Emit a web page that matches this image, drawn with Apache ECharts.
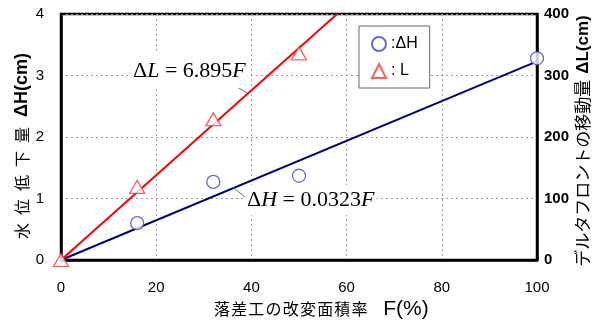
<!DOCTYPE html>
<html>
<head>
<meta charset="utf-8">
<script src="https://cdn.jsdelivr.net/npm/echarts@6/dist/echarts.min.js"></script>
<style>html,body{margin:0;padding:0;background:#fff;}#c{width:601px;height:320px;}</style>
</head>
<body>
<div id="c"></div>
<script>
// ---- data ----
const xTicks = [0, 20, 40, 60, 80, 100];
const dHx = [16, 32, 50, 100];
const dHy = [0.60, 1.27, 1.37, 3.28];
const dLx = [0, 16, 32, 50];
const dLy = [0, 119, 229, 336];
const slopeH = 0.0323;   // ΔH = 0.0323F
const slopeL = 6.895;    // ΔL = 6.895F
const leftMax = 4, rightMax = 400, xMax = 100;

const hPoints = dHx.map((x, i) => [x, dHy[i]]);
const lPoints = dLx.map((x, i) => [x, dLy[i]]);
const hFit = [[0, 0], [xMax, slopeH * xMax]];
const lEnd = Math.min(xMax, rightMax / slopeL);
const lFit = [[0, 0], [lEnd, slopeL * lEnd]];

const chart = echarts.init(document.getElementById('c'), null, {renderer: 'canvas'});
const grid = {left: 61, right: 64, top: 14, bottom: 60};
const dotted = {show: true, lineStyle: {color: '#a0a0a0', type: [2, 3], width: 1}};

const leftCJK = '水位低下量';
const rightCJK = 'デルタフロントの移動量';
const xCJK = '落差工の改変面積率';

chart.setOption({
  animation: false,
  grid: Object.assign({show: true, borderColor: '#000', borderWidth: 2.5, backgroundColor: 'transparent'}, grid),
  legend: {
    orient: 'vertical', left: 359, top: 26,
    padding: [10, 12, 9, 12], itemGap: 11, itemWidth: 14, itemHeight: 14, itemTextGap: 4,
    borderColor: '#666', borderWidth: 1, backgroundColor: '#fff',
    textStyle: {fontFamily: 'Liberation Sans', fontSize: 16, color: '#000'},
    data: [':ΔH', ': L']
  },
  xAxis: {
    type: 'value', min: 0, max: xMax, interval: 20,
    axisLine: {show: true, lineStyle: {color: '#000', width: 2.5}},
    axisTick: {show: false},
    axisLabel: {margin: 20, fontFamily: 'Liberation Sans', fontSize: 15, color: '#000'},
    splitLine: dotted
  },
  yAxis: [{
    type: 'value', min: 0, max: leftMax, interval: 1, position: 'left',
    axisLine: {show: true, lineStyle: {color: '#000', width: 2.5}},
    axisTick: {show: false},
    axisLabel: {margin: 17, fontFamily: 'Liberation Sans', fontSize: 15, color: '#000'},
    splitLine: dotted
  }, {
    type: 'value', min: 0, max: rightMax, interval: 100, position: 'right',
    axisLine: {show: true, lineStyle: {color: '#000', width: 2.5}},
    axisTick: {show: false},
    axisLabel: {margin: 7, fontFamily: 'Liberation Sans', fontSize: 15, fontWeight: 'bold', color: '#000'},
    splitLine: {show: false}
  }],
  series: [{
    type: 'line', data: hFit, yAxisIndex: 0, symbol: 'none', silent: true,
    lineStyle: {color: '#000080', width: 2}, z: 2
  }, {
    type: 'line', data: lFit, yAxisIndex: 1, symbol: 'none', silent: true,
    lineStyle: {color: '#ff0000', width: 2}, z: 2
  }, {
    name: ':ΔH', type: 'scatter', data: hPoints, yAxisIndex: 0, clip: false,
    symbol: 'circle', symbolSize: 13,
    itemStyle: {color: '#fff', borderColor: '#4444cc', borderWidth: 1.3}, z: 5
  }, {
    name: ': L', type: 'scatter', data: lPoints, yAxisIndex: 1, clip: false,
    symbol: 'triangle', symbolSize: [15, 13],
    itemStyle: {color: '#fff', borderColor: '#ff3333', borderWidth: 1.3}, z: 5
  }],
  graphic: [
    {type: 'line', z: 20, shape: {x1: 226, y1: 80, x2: 247, y2: 93}, style: {stroke: '#666', lineWidth: 1}},
    {type: 'line', z: 20, shape: {x1: 233, y1: 187, x2: 247, y2: 199}, style: {stroke: '#666', lineWidth: 1}},
    {type: 'text', z: 21, x: 131, y: 71, style: {
      text: '{n|Δ}{i|L}{n| = 6.895}{i|F}', align: 'left', verticalAlign: 'middle',
      backgroundColor: '#fff', padding: [6, 2, 6, 2],
      rich: {n: {fontFamily: 'Liberation Serif', fontSize: 22, color: '#000'},
             i: {fontFamily: 'Liberation Serif', fontSize: 22, fontStyle: 'italic', color: '#000'}}
    }},
    {type: 'text', z: 21, x: 245, y: 200, style: {
      text: '{n|Δ}{i|H}{n| = 0.0323}{i|F}', align: 'left', verticalAlign: 'middle',
      backgroundColor: '#fff', padding: [4, 2, 4, 2],
      rich: {n: {fontFamily: 'Liberation Serif', fontSize: 22, color: '#000'},
             i: {fontFamily: 'Liberation Serif', fontSize: 22, fontStyle: 'italic', color: '#000'}}
    }},
    {type: 'text', z: 21, x: 22, y: 148, rotation: Math.PI / 2, style: {
      text: leftCJK.split('').map(c => '{k|' + c + '}').join('') + '{s| }{b|ΔH(cm)}',
      align: 'center', verticalAlign: 'middle',
      rich: {k: {fontFamily: 'Noto Sans CJK JP', fontSize: 16, width: 24, align: 'center', color: '#4646b4'},
             s: {width: 6, fontSize: 16},
             b: {fontFamily: 'Liberation Sans', fontSize: 18, fontWeight: 'bold', color: '#3c3cb0'}}
    }},
    {type: 'text', z: 21, x: 583, y: 141, rotation: Math.PI / 2, style: {
      text: '{k|' + rightCJK + '}{s| }{b|ΔL(cm)}',
      align: 'center', verticalAlign: 'middle',
      rich: {k: {fontFamily: 'Noto Sans CJK JP', fontSize: 17, color: '#ff0000'},
             s: {width: 6, fontSize: 16},
             b: {fontFamily: 'Liberation Sans', fontSize: 17, fontWeight: 'bold', color: '#ff0000'}}
    }},
    {type: 'text', z: 21, x: 321, y: 309, style: {
      text: xCJK.split('').map(c => '{k|' + c + '}').join('') + '{s| }{f|F(%)}',
      align: 'center', verticalAlign: 'middle',
      rich: {k: {fontFamily: 'Noto Sans CJK JP', fontSize: 16, width: 17.2, align: 'center', color: '#333'},
             s: {width: 15, fontSize: 16},
             f: {fontFamily: 'Liberation Sans', fontSize: 21, color: '#000'}}
    }}
  ]
});
</script>
</body>
</html>
